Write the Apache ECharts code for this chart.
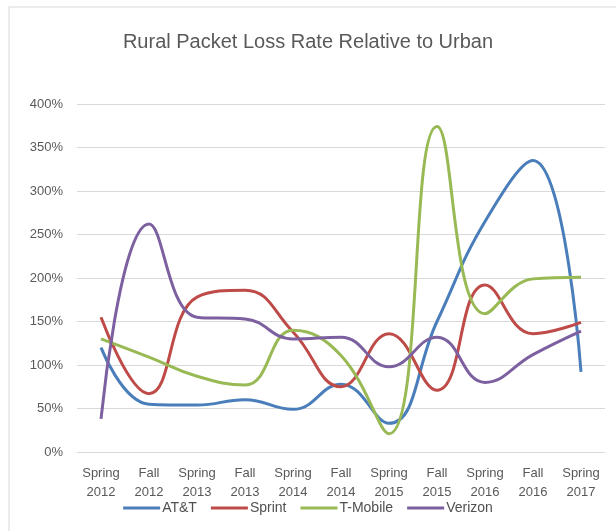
<!DOCTYPE html>
<html>
<head>
<meta charset="utf-8">
<script src="https://cdn.jsdelivr.net/npm/echarts@6/dist/echarts.min.js"></script>
<style>
  html, body { margin: 0; padding: 0; background: #fff; }
  #chart { width: 616px; height: 531px; }
</style>
</head>
<body>
<div id="chart"></div>
<script>
// survey periods
const periods = ['Spring\n2012', 'Fall\n2012', 'Spring\n2013', 'Fall\n2013', 'Spring\n2014',
  'Fall\n2014', 'Spring\n2015', 'Fall\n2015', 'Spring\n2016', 'Fall\n2016', 'Spring\n2017'];

// rural loss rate as % of urban
const att = [120, 55, 54, 60, 49, 78, 33, 150, 265, 335, 92];
const sprint = [155, 67, 178, 186, 138, 75, 136, 71, 192, 136, 149];
const tmobile = [130, 109, 87, 77, 140, 111, 21, 374, 159, 199, 201];
const verizon = [38, 262, 155, 153, 130, 132, 98, 132, 80, 112, 139];

const names = ['AT&T', 'Sprint', 'T-Mobile', 'Verizon'];
const colors = ['#4A7EBB', '#BE4B48', '#98B954', '#7D60A0'];
const font = 'Liberation Sans';

const chart = echarts.init(document.getElementById('chart'));

const mkSeries = (name, data, i) => ({
  name: name,
  type: 'line',
  data: data,
  smooth: 0.45,
  symbol: 'none',
  lineStyle: {width: 3, color: colors[i]},
  itemStyle: {color: colors[i]}
});

chart.setOption({
  animation: false,
  textStyle: {fontFamily: font},
  title: {
    text: 'Rural Packet Loss Rate Relative to Urban',
    left: 'center',
    top: 27,
    textStyle: {fontSize: 20, fontWeight: 'normal', color: '#595959', fontFamily: font}
  },
  graphic: [{
    type: 'rect',
    shape: {x: 9, y: 7, width: 700, height: 600},
    style: {fill: 'none', stroke: '#d9d9d9', lineWidth: 1}
  }],
  legend: {
    bottom: 11,
    left: 'center',
    itemWidth: 37,
    itemHeight: 3,
    itemGap: 14,
    icon: 'rect',
    textStyle: {fontSize: 14, color: '#505050', padding: [0, 0, 0, -3]},
    data: names
  },
  grid: {left: 77, right: 11, top: 104, bottom: 79},
  xAxis: {
    type: 'category',
    data: periods,
    boundaryGap: true,
    axisLine: {show: false},
    axisTick: {show: false},
    axisLabel: {fontSize: 13, color: '#595959', lineHeight: 19, margin: 12, interval: 0}
  },
  yAxis: {
    type: 'value',
    min: 0,
    max: 400,
    interval: 50,
    axisLine: {show: false},
    axisTick: {show: false},
    splitLine: {lineStyle: {color: '#d9d9d9', width: 1}},
    axisLabel: {fontSize: 13, color: '#595959', formatter: '{value}%', margin: 14}
  },
  series: [
    mkSeries(names[0], att, 0),
    mkSeries(names[1], sprint, 1),
    mkSeries(names[2], tmobile, 2),
    mkSeries(names[3], verizon, 3)
  ]
});
</script>
</body>
</html>
